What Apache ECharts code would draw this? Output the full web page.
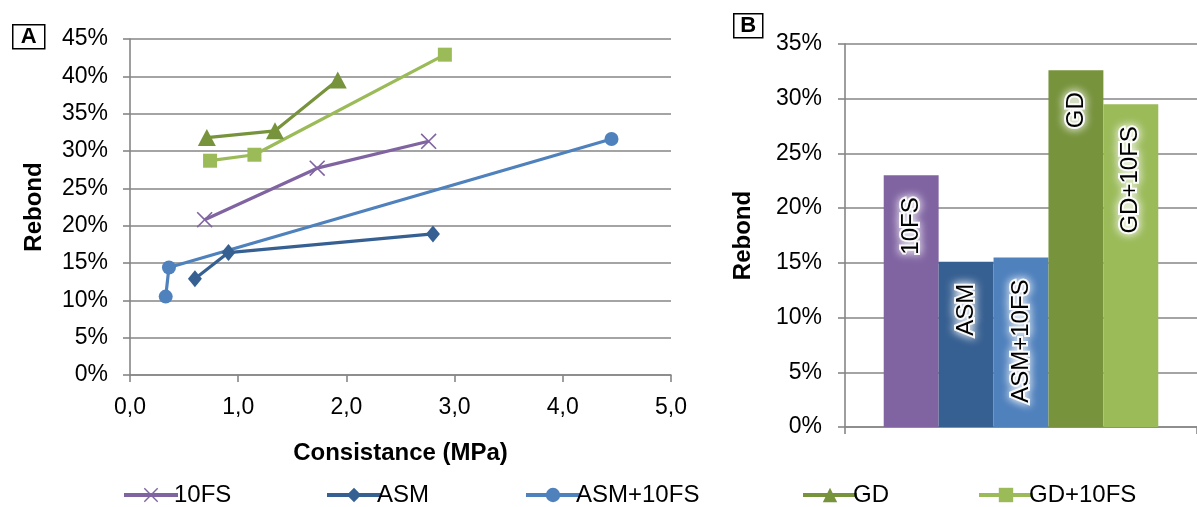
<!DOCTYPE html>
<html>
<head>
<meta charset="utf-8">
<script src="https://cdn.jsdelivr.net/npm/echarts@6/dist/echarts.min.js"></script>
<style>
  html, body { margin: 0; padding: 0; background: #fff; }
  #chart { width: 1197px; height: 507px; }
</style>
</head>
<body>
<div id="chart"></div>
<script>
// Mix names (legend order)
const mixes = ['10FS', 'ASM', 'ASM+10FS', 'GD', 'GD+10FS'];

// Panel A: consistance (MPa) vs rebond (%) for each mix
const pts10FS    = [[0.69, 20.8], [1.73, 27.7], [2.76, 31.3]];
const ptsASM     = [[0.60, 12.9], [0.91, 16.4], [2.80, 18.9]];
const ptsASM10FS = [[0.33, 10.5], [0.36, 14.4], [4.45, 31.6]];
const ptsGD      = [[0.71, 31.8], [1.34, 32.7], [1.92, 39.5]];
const ptsGD10FS  = [[0.74, 28.7], [1.15, 29.5], [2.91, 42.9]];

// Panel B: rebond (%) per mix
const barRebond = [23.0, 15.1, 15.5, 32.6, 29.5];

// Axis ranges
const rebondA = { min: 0, max: 45, step: 5 };
const consistanceA = { min: 0, max: 5, step: 1 };
const rebondB = { min: 0, max: 35, step: 5 };

const colors = {
  '10FS': '#8064A2',
  'ASM': '#376092',
  'ASM+10FS': '#4F81BD',
  'GD': '#77933C',
  'GD+10FS': '#9BBB59'
};

const FONT = '"Liberation Sans", Arial, sans-serif';
const GRID_GREY = '#868686';
const TICK_FONT = 23;

const crossPath = 'path://M0,0.7L0.7,0L5,4.3L9.3,0L10,0.7L5.7,5L10,9.3L9.3,10L5,5.7L0.7,10L0,9.3L4.3,5Z';
const markers = {
  '10FS': { symbol: crossPath, size: 16 },
  'ASM': { symbol: 'diamond', size: [14, 17] },
  'ASM+10FS': { symbol: 'circle', size: 14 },
  'GD': { symbol: 'triangle', size: [18, 17] },
  'GD+10FS': { symbol: 'rect', size: 14 }
};
const linePoints = {
  '10FS': pts10FS,
  'ASM': ptsASM,
  'ASM+10FS': ptsASM10FS,
  'GD': ptsGD,
  'GD+10FS': ptsGD10FS
};

const pct = v => v + '%';
const comma = v => v.toFixed(1).replace('.', ',');

const lineSeries = mixes.map(name => ({
  name: name,
  type: 'line',
  xAxisIndex: 0,
  yAxisIndex: 0,
  data: linePoints[name],
  symbol: markers[name].symbol,
  symbolSize: markers[name].size,
  showAllSymbol: true,
  lineStyle: { color: colors[name], width: 3.2 },
  itemStyle: { color: colors[name] },
  emphasis: { disabled: true },
  animation: false
}));

const barSeries = mixes.map((name, i) => ({
  name: name,
  type: 'bar',
  xAxisIndex: 1,
  yAxisIndex: 1,
  data: [barRebond[i]],
  barGap: '0%',
  barCategoryGap: '22%',
  itemStyle: { color: colors[name] },
  label: {
    show: true,
    formatter: name,
    position: 'insideTop',
    distance: 22,
    rotate: 90,
    align: 'right',
    verticalAlign: 'middle',
    fontFamily: FONT,
    fontSize: 24,
    color: '#000',
    textBorderColor: 'rgba(255,255,255,0.9)',
    textBorderWidth: 4,
    textShadowColor: '#ffffff',
    textShadowBlur: 10
  },
  emphasis: { disabled: true },
  animation: false
}));

// One legend per entry so each sits where it belongs along the bottom row
const legendLefts = [117, 320, 519, 796, 972];
const legends = mixes.map((name, i) => ({
  data: [name],
  left: legendLefts[i],
  top: 478,
  itemWidth: 54,
  itemHeight: 18,
  itemGap: 0,
  lineStyle: { width: 4 },
  textStyle: { fontFamily: FONT, fontSize: 24, color: '#000', padding: [0, 0, 0, -9] },
  selectedMode: false
}));

const valueAxisCommon = {
  axisLine: { show: true, lineStyle: { color: GRID_GREY, width: 1.6 } },
  axisTick: { show: true, length: 7, lineStyle: { color: GRID_GREY, width: 1.6 } },
  splitLine: { show: true, lineStyle: { color: GRID_GREY, width: 1.6 } },
  nameLocation: 'middle',
  nameRotate: 90,
  nameTextStyle: { fontFamily: FONT, fontSize: 24, fontWeight: 'bold', color: '#000' }
};

const chart = echarts.init(document.getElementById('chart'), null, { renderer: 'canvas' });
chart.setOption({
  backgroundColor: '#fff',
  animation: false,
  legend: legends,
  grid: [
    { left: 130, top: 39, width: 541, height: 336 },
    { left: 845, top: 44, width: 357, height: 383 }
  ],
  xAxis: [
    {
      type: 'value',
      gridIndex: 0,
      min: consistanceA.min,
      max: consistanceA.max,
      interval: consistanceA.step,
      name: 'Consistance (MPa)',
      nameLocation: 'middle',
      nameGap: 66,
      nameTextStyle: { fontFamily: FONT, fontSize: 24, fontWeight: 'bold', color: '#000' },
      axisLine: { show: true, onZero: false, lineStyle: { color: GRID_GREY, width: 1.6 } },
      axisTick: { show: true, length: 7, lineStyle: { color: GRID_GREY, width: 1.6 } },
      splitLine: { show: false },
      axisLabel: { formatter: comma, fontFamily: FONT, fontSize: TICK_FONT, color: '#000', margin: 21 }
    },
    {
      type: 'category',
      gridIndex: 1,
      data: [''],
      axisLine: { show: true, lineStyle: { color: GRID_GREY, width: 1.6 } },
      axisTick: { show: true, length: 7, alignWithLabel: false, lineStyle: { color: GRID_GREY, width: 1.6 } },
      axisLabel: { show: false },
      splitLine: { show: false }
    }
  ],
  yAxis: [
    Object.assign({}, valueAxisCommon, {
      type: 'value',
      gridIndex: 0,
      min: rebondA.min,
      max: rebondA.max,
      interval: rebondA.step,
      name: 'Rebond',
      nameGap: 84,
      axisLabel: { formatter: pct, fontFamily: FONT, fontSize: TICK_FONT, color: '#000', margin: 22 }
    }),
    Object.assign({}, valueAxisCommon, {
      type: 'value',
      gridIndex: 1,
      min: rebondB.min,
      max: rebondB.max,
      interval: rebondB.step,
      name: 'Rebond',
      nameGap: 90,
      axisLabel: { formatter: pct, fontFamily: FONT, fontSize: TICK_FONT, color: '#000', margin: 23 }
    })
  ],
  graphic: [
    {
      type: 'group', left: 12, top: 24,
      children: [
        { type: 'rect', shape: { x: 0, y: 0, width: 32, height: 24 },
          style: { fill: '#fff', stroke: '#000', lineWidth: 1.5 } },
        { type: 'text', x: 16, y: 12,
          style: { text: 'A', fontFamily: FONT, fontSize: 22, fontWeight: 'bold', fill: '#000',
                   textAlign: 'center', textVerticalAlign: 'middle' } }
      ]
    },
    {
      type: 'group', left: 733, top: 13,
      children: [
        { type: 'rect', shape: { x: 0, y: 0, width: 29, height: 24 },
          style: { fill: '#fff', stroke: '#000', lineWidth: 1.5 } },
        { type: 'text', x: 14.5, y: 12,
          style: { text: 'B', fontFamily: FONT, fontSize: 22, fontWeight: 'bold', fill: '#000',
                   textAlign: 'center', textVerticalAlign: 'middle' } }
      ]
    }
  ],
  series: lineSeries.concat(barSeries)
});
</script>
</body>
</html>
